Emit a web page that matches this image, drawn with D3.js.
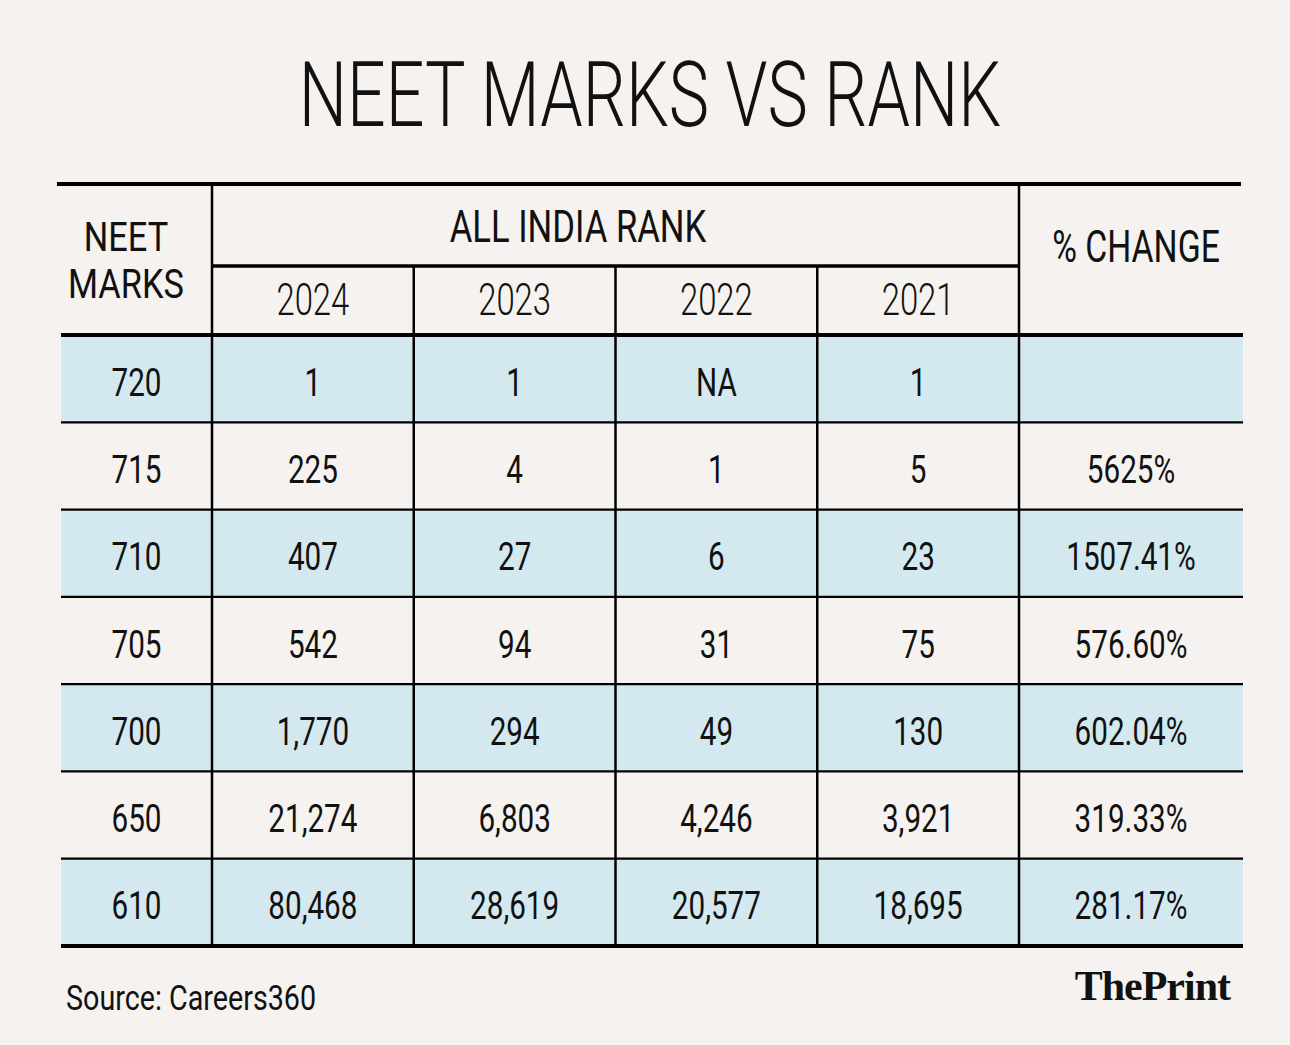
<!DOCTYPE html>
<html>
<head>
<meta charset="utf-8">
<script src="https://cdn.jsdelivr.net/npm/d3@7"></script>
<style>
  html, body { margin: 0; padding: 0; background: #f5f2ef; }
  svg { display: block; }
  text { font-family: Roboto, "Liberation Sans", sans-serif; fill: #111; }
</style>
</head>
<body>
<svg id="chart" width="1290" height="1045"></svg>
<script>
// table data
const marks = [720, 715, 710, 705, 700, 650, 610];
const years = ["2024", "2023", "2022", "2021"];
const rank2024 = [1, 225, 407, 542, 1770, 21274, 80468];
const rank2023 = [1, 4, 27, 94, 294, 6803, 28619];
const rank2022 = [null, 1, 6, 31, 49, 4246, 20577];
const rank2021 = [1, 5, 23, 75, 130, 3921, 18695];
const pctChange = ["", "5625%", "1507.41%", "576.60%", "602.04%", "319.33%", "281.17%"];

const ranks = [rank2024, rank2023, rank2022, rank2021];
const fmt = d3.format(",");

const W = 1290, H = 1045;
const left = 61, right = 1243;
const colMarksEnd = 212, colYearsEnd = 1019;
const tableTop = 184, subHeadTop = 266, bodyTop = 335, bodyBottom = 946;

const svg = d3.select('#chart');
svg.append('rect').attr('width', W).attr('height', H).attr('fill', '#f5f2ef');

// scales
const x = d3.scaleBand().domain(years).range([colMarksEnd, colYearsEnd]);
const y = d3.scaleBand().domain(marks).range([bodyTop, bodyBottom]);

// condensed text helper (no condensed font installed, so squeeze horizontally)
function label(g, txt, cx, base, size, weight, sx, anchor) {
  return g.append('text')
    .attr('transform', `translate(${cx},${base}) scale(${sx},1)`)
    .attr('text-anchor', anchor || 'middle')
    .style('font-size', size + 'px')
    .style('font-weight', weight)
    .text(txt);
}

// title
label(svg, 'NEET MARKS VS RANK', 650, 126, 90, 300, 0.755);

// row fills
svg.append('g').selectAll('rect')
  .data(marks)
  .join('rect')
  .attr('x', left)
  .attr('y', d => y(d))
  .attr('width', right - left)
  .attr('height', y.bandwidth())
  .attr('fill', (d, i) => i % 2 === 0 ? '#d3e9ef' : 'none');

// grid lines
const lines = svg.append('g').attr('stroke', '#000');
// thin row separators
lines.selectAll('line.row')
  .data(marks.slice(1))
  .join('line')
  .attr('class', 'row')
  .attr('x1', left).attr('x2', right)
  .attr('y1', d => y(d)).attr('y2', d => y(d))
  .attr('stroke-width', 2.2);
// vertical lines between years
lines.selectAll('line.vcol')
  .data(years.slice(1))
  .join('line')
  .attr('class', 'vcol')
  .attr('x1', d => x(d)).attr('x2', d => x(d))
  .attr('y1', subHeadTop).attr('y2', bodyBottom)
  .attr('stroke-width', 2.5);
// outer column dividers
[colMarksEnd, colYearsEnd].forEach(cx => {
  lines.append('line')
    .attr('x1', cx).attr('x2', cx)
    .attr('y1', tableTop).attr('y2', bodyBottom)
    .attr('stroke-width', 2.5);
});
// under "ALL INDIA RANK"
lines.append('line')
  .attr('x1', colMarksEnd).attr('x2', colYearsEnd)
  .attr('y1', subHeadTop).attr('y2', subHeadTop)
  .attr('stroke-width', 3.5);
// heavy rules
lines.append('line').attr('x1', 57).attr('x2', 1241)
  .attr('y1', tableTop).attr('y2', tableTop).attr('stroke-width', 4);
lines.append('line').attr('x1', left).attr('x2', right)
  .attr('y1', bodyTop).attr('y2', bodyTop).attr('stroke-width', 4);
lines.append('line').attr('x1', left).attr('x2', right)
  .attr('y1', bodyBottom).attr('y2', bodyBottom).attr('stroke-width', 4);

// header text
const head = svg.append('g');
label(head, 'NEET', 126, 251, 40, 400, 0.86);
label(head, 'MARKS', 126, 298, 40, 400, 0.86);
label(head, 'ALL INDIA RANK', 578, 242, 45, 400, 0.77);
label(head, '% CHANGE', 1136, 262, 45, 400, 0.75);
years.forEach(yr => label(head, yr, x(yr) + x.bandwidth() / 2, 315, 45, 300, 0.73));

// body text
const body = svg.append('g');
const cy = m => y(m) + y.bandwidth() / 2 + 17;
marks.forEach((m, i) => {
  label(body, m, (left + colMarksEnd) / 2, cy(m), 38, 400, 0.78);
  years.forEach((yr, j) => {
    const v = ranks[j][i];
    label(body, v == null ? 'NA' : fmt(v), x(yr) + x.bandwidth() / 2, cy(m), 38, 400, 0.78);
  });
  label(body, pctChange[i], (colYearsEnd + right) / 2, cy(m), 38, 400, 0.78);
});

// footer
label(svg, 'Source: Careers360', 66, 1010, 35, 400, 0.82, 'start');
const logo = svg.append('text')
  .attr('x', 1230).attr('y', 1000)
  .attr('text-anchor', 'end')
  .style('font-family', '"Liberation Serif", "DejaVu Serif", serif')
  .style('font-size', '42px')
  .style('letter-spacing', '-1px');
logo.append('tspan').style('font-weight', 700).text('The');
logo.append('tspan').style('font-weight', 900).text('Print');
</script>
</body>
</html>
